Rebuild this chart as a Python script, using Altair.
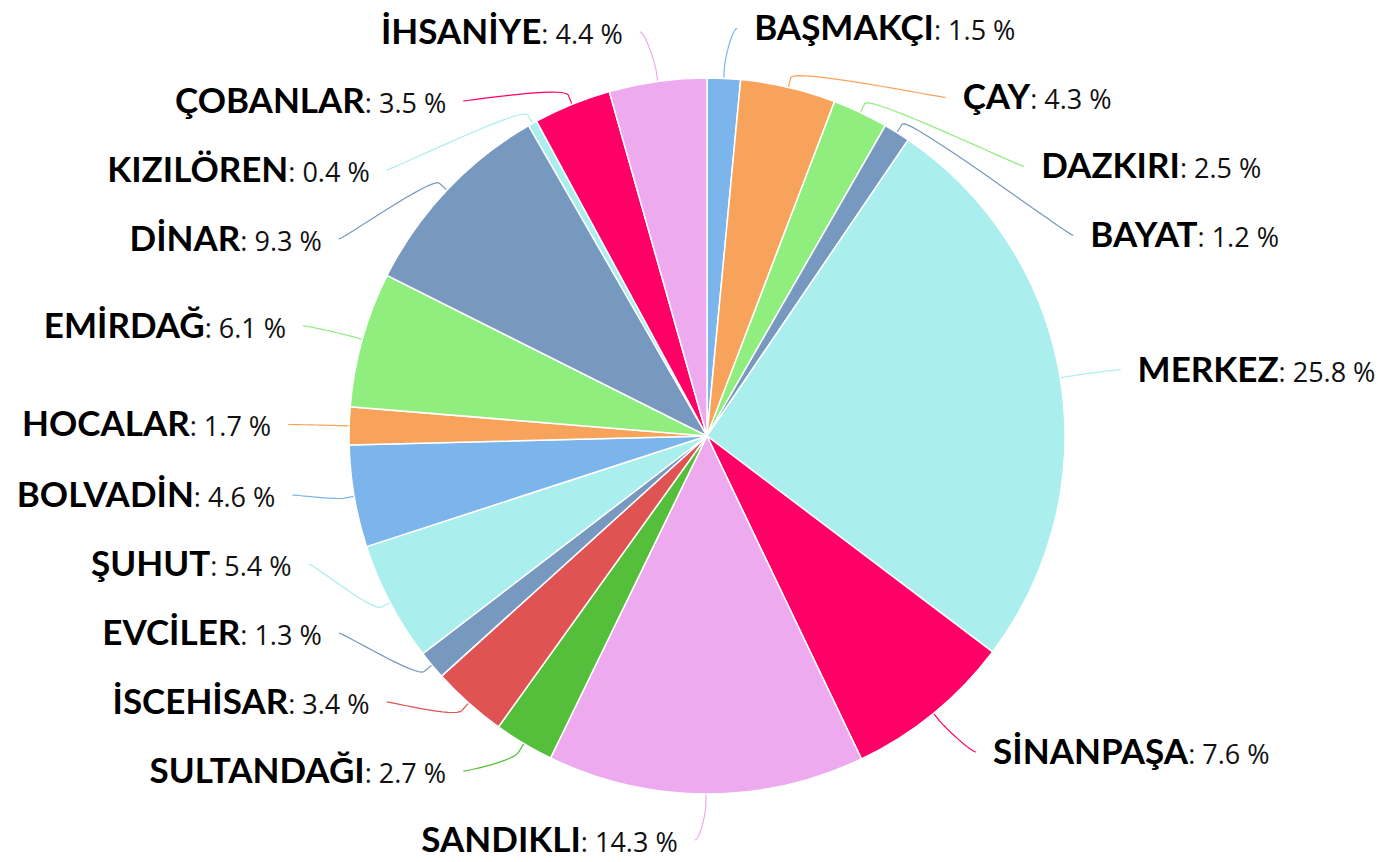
import math
import subprocess
import altair as alt
import pandas as pd

# ---------------- data ----------------
names = ["BAŞMAKÇI", "ÇAY", "DAZKIRI", "BAYAT", "MERKEZ", "SİNANPAŞA", "SANDIKLI",
         "SULTANDAĞI", "İSCEHİSAR", "EVCİLER", "ŞUHUT", "BOLVADİN", "HOCALAR",
         "EMİRDAĞ", "DİNAR", "KIZILÖREN", "ÇOBANLAR", "İHSANİYE"]
values = [1.5, 4.3, 2.5, 1.2, 25.8, 7.6, 14.3, 2.7, 3.4, 1.3, 5.4, 4.6, 1.7,
          6.1, 9.3, 0.4, 3.5, 4.4]
colors = ["#7cb5ec", "#f7a35c", "#90ee7e", "#7798bf", "#aaeeee", "#ff0066",
          "#eeaaee", "#55bf3b", "#df5353", "#7798bf", "#aaeeee", "#7cb5ec",
          "#f7a35c", "#90ee7e", "#7798bf", "#aaeeee", "#ff0066", "#eeaaee"]

# ---------------- layout constants ----------------
W, H = 1377, 846
CX, CY = 699, 428          # pie centre
R = 358                    # pie radius
RN = 408                   # label circle (radius + label distance)
PAD = 11                   # connector end offset
GAP = 17                   # gap connector end -> text
SPACING = 69               # min vertical distance between labels
TOP, BOTTOM = 17, 832
NAME_SIZE, VAL_SIZE = 35, 27
NAME_FONT, VAL_FONT = "Lato", "Open Sans"


def font_path(spec):
    try:
        return subprocess.run(["fc-match", "-f", "%{file}", spec], capture_output=True,
                              text=True, timeout=5).stdout.strip()
    except Exception:
        return ""


BOLD_W = {"A": .727, "B": .666, "C": .680, "D": .764, "E": .575, "F": .558, "G": .735,
          "H": .773, "I": .303, "K": .690, "L": .498, "M": .925, "N": .773, "O": .810,
          "P": .620, "R": .650, "S": .532, "T": .595, "U": .741, "V": .713, "Y": .667,
          "Z": .620, "Ç": .680, "Ğ": .735, "İ": .303, "Ö": .810, "Ş": .532}
REG_W = {":": .266, " ": .26, ".": .266, "%": .856}

try:
    from PIL import ImageFont
    fb = ImageFont.truetype(font_path(NAME_FONT + ":bold"), NAME_SIZE)
    fr = ImageFont.truetype(font_path(VAL_FONT), VAL_SIZE)

    def w_name(s):
        return fb.getlength(s)

    def w_val(s):
        return fr.getlength(s)
except Exception:
    def w_name(s):
        return sum(BOLD_W.get(c, .65) for c in s) * NAME_SIZE

    def w_val(s):
        return sum(REG_W.get(c, .572) for c in s) * VAL_SIZE

# ---------------- label geometry ----------------
total = sum(values)
cum = 0
rows = []
for i, (n, v) in enumerate(zip(names, values)):
    a = (cum + v / 2) / total * 2 * math.pi
    cum += v
    left = math.sin(a) < 0
    rows.append(dict(idx=i, name=n, value=v, a=a, left=left,
                     ny=CY - RN * math.cos(a), vtxt=f": {v:.1f} %"))

for side in (True, False):
    grp = sorted([r for r in rows if r["left"] == side], key=lambda r: r["ny"])
    ys = [r["ny"] for r in grp]
    for k in range(len(ys)):
        lo = TOP if k == 0 else ys[k - 1] + SPACING
        ys[k] = max(ys[k], lo)
    for k in range(len(ys) - 1, -1, -1):
        hi = BOTTOM if k == len(ys) - 1 else ys[k + 1] - SPACING
        ys[k] = min(ys[k], hi)
    for r, y in zip(grp, ys):
        r["y"] = y
        yx = r["ny"] if (abs(y - TOP) < 0.5 or abs(y - BOTTOM) < 0.5) else y
        dy = max(-RN, min(RN, yx - CY))
        off = math.sqrt(max(RN * RN - dy * dy, 0)) + PAD
        sgn = -1 if side else 1
        r["xc"] = CX + sgn * off
        r["xt"] = r["xc"] + sgn * GAP

line_rows = []
for r in rows:
    a = r["a"]
    tx, ty = CX + R * math.sin(a), CY - R * math.cos(a)
    bx, by = CX + (R + 10) * math.sin(a), CY - (R + 10) * math.cos(a)
    p0 = (r["xc"], r["y"])
    p1 = (r["xc"] + (5 if r["left"] else -5), r["y"])
    p2 = (2 * bx - tx, 2 * by - ty)
    p3 = (bx, by)
    pts = []
    for k in range(17):
        t = k / 16
        mt = 1 - t
        x = mt**3 * p0[0] + 3 * mt * mt * t * p1[0] + 3 * mt * t * t * p2[0] + t**3 * p3[0]
        y = mt**3 * p0[1] + 3 * mt * mt * t * p1[1] + 3 * mt * t * t * p2[1] + t**3 * p3[1]
        pts.append((x, y))
    pts.append((tx, ty))
    for k, (x, y) in enumerate(pts):
        line_rows.append(dict(name=r["name"], o=k, x=x, y=y))

lab = pd.DataFrame(rows)
lab["ybase"] = lab["y"] + 12
lab["w_name"] = lab["name"].map(w_name)
lab["w_val"] = lab["vtxt"].map(w_val)
lab["xn"] = lab.apply(lambda r: r["xt"] - r["w_val"] if r["left"] else r["xt"], axis=1)
lab["xv"] = lab.apply(lambda r: r["xt"] if r["left"] else r["xt"] + r["w_name"], axis=1)

pie_df = pd.DataFrame(dict(idx=range(len(names)), name=names, value=values))
lines_df = pd.DataFrame(line_rows)

color = alt.Color("name:N", scale=alt.Scale(domain=names, range=colors), legend=None)
xs = alt.Scale(domain=[0, W], range=[0, W], nice=False, zero=False)
ys_ = alt.Scale(domain=[0, H], range=[0, H], nice=False, zero=False)

pie = alt.Chart(pie_df).mark_arc(radius=R, stroke="white", strokeWidth=1.5).encode(
    theta=alt.Theta("value:Q", stack=True),
    order=alt.Order("idx:Q"),
    color=color,
    x=alt.value(CX), y=alt.value(CY),
)

conn = alt.Chart(lines_df).mark_line(strokeWidth=1.2).encode(
    x=alt.X("x:Q", scale=xs, axis=None),
    y=alt.Y("y:Q", scale=ys_, axis=None),
    order="o:Q",
    detail="name:N",
    color=color,
)

left_lab = lab[lab["left"]]
right_lab = lab[~lab["left"]]


def txt(df, field, xfield, align, font, size, weight, col):
    return alt.Chart(df).mark_text(align=align, baseline="alphabetic", font=font,
                                   fontSize=size, fontWeight=weight, color=col).encode(
        x=alt.X(f"{xfield}:Q", scale=xs, axis=None),
        y=alt.Y("ybase:Q", scale=ys_, axis=None),
        text=f"{field}:N",
    )


texts = [
    txt(right_lab[["name", "xn", "ybase"]], "name", "xn", "left", NAME_FONT, NAME_SIZE, "bold", "#000000"),
    txt(right_lab[["vtxt", "xv", "ybase"]], "vtxt", "xv", "left", VAL_FONT, VAL_SIZE, "normal", "#111111"),
    txt(left_lab[["name", "xn", "ybase"]], "name", "xn", "right", NAME_FONT, NAME_SIZE, "bold", "#000000"),
    txt(left_lab[["vtxt", "xv", "ybase"]], "vtxt", "xv", "right", VAL_FONT, VAL_SIZE, "normal", "#111111"),
]

chart = alt.layer(conn, pie, *texts).properties(
    width=W, height=H, padding=0, autosize=alt.AutoSizeParams(type="none")
).configure_view(stroke=None)

chart.save("out.html", embed_options={"renderer": "svg", "actions": False})
